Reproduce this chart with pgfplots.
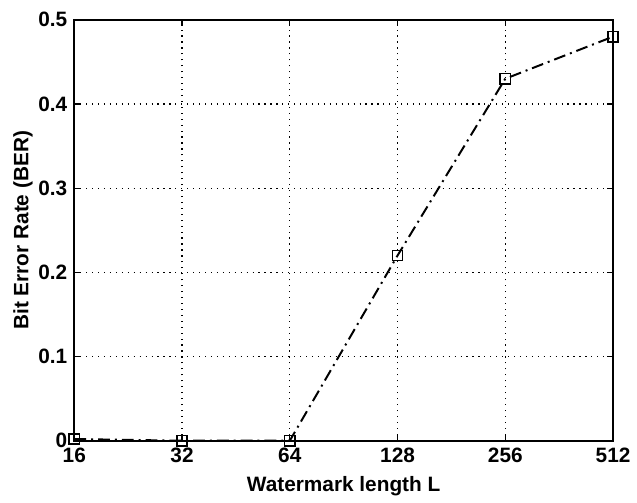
\documentclass[border=0pt]{standalone}
\usepackage{fontspec}
\setmainfont{Liberation Sans}
\usepackage{pgfplots}
\pgfplotsset{compat=1.18}
\begin{document}
\begin{tikzpicture}
\begin{axis}[
  scale only axis,
  width=272pt, height=212.5pt,
  xmin=0, xmax=5, ymin=0, ymax=0.5,
  xtick={0,1,2,3,4,5},
  xticklabels={16,32,64,128,256,512},
  ytick={0,0.1,0.2,0.3,0.4,0.5},
  yticklabel style={/pgf/number format/fixed,/pgf/number format/precision=1},
  /pgf/number format/assume math mode=true,
  tick align=inside,
  major tick length=3pt,
  grid=major,
  grid style={black, dash pattern=on 0.6pt off 2.4pt, line width=0.6pt},
  axis line style={black, line width=0.8pt},
  tick style={black, line width=0.6pt},
  every tick label/.append style={font=\fontsize{10.5}{12}\selectfont\bfseries},
  label style={font=\fontsize{10.5}{12}\selectfont\bfseries},
  xlabel={Watermark length L},
  ylabel={Bit Error Rate (BER)},
  xlabel style={yshift=0pt},
  ylabel style={yshift=-4pt},
  clip=false,
]
\addplot[black, line width=1pt, dash pattern=on 6pt off 2.5pt on 1pt off 2.5pt, mark=square, mark size=2.6pt, mark options={solid, line width=0.8pt}]
  coordinates {(0,0.002) (1,0) (2,0) (3,0.22) (4,0.43) (5,0.48)};
\end{axis}
\path[use as bounding box] (-37.5pt,-29pt) rectangle (281pt,222.5pt);
\end{tikzpicture}
\end{document}
